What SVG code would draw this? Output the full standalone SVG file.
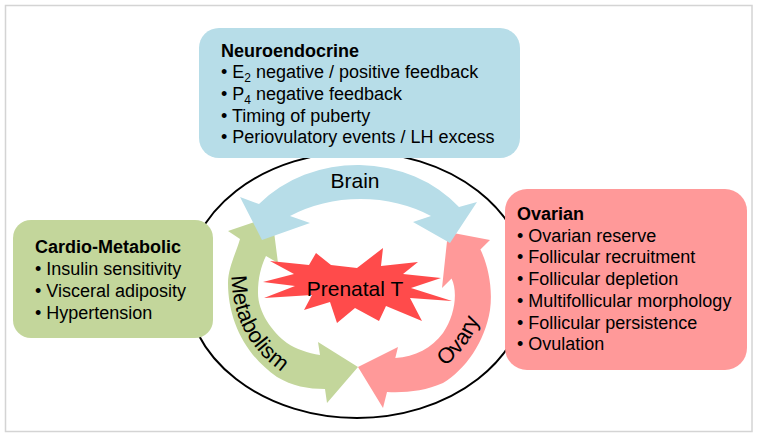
<svg xmlns="http://www.w3.org/2000/svg" width="762" height="438" viewBox="0 0 762 438">
<defs>
<style>
.t{font-family:"Liberation Sans",Arial,sans-serif;font-size:18px;fill:#000}
.b{font-weight:bold}
.lab{font-family:"Liberation Sans",Arial,sans-serif;font-size:21px;fill:#000}
.cl{font-family:"Liberation Sans",Arial,sans-serif;font-size:22px;fill:#000}
.blue{fill:#b7dde8}
.green{fill:#c3d69b}
.red{fill:#ff9999}
</style>
<path id="pm" d="M 232,260 C 228,310 245,355 302,384"/>
<path id="po" d="M 428,377 C 455,363 481,336 486,290"/>
</defs>
<rect x="5.5" y="5.5" width="746.5" height="426" fill="#fff" stroke="#d4d4d4" stroke-width="1.5"/>
<ellipse cx="357" cy="285" rx="171" ry="133" fill="none" stroke="#000" stroke-width="2"/>

<g id="neuroendocrine">
<rect x="199" y="28" width="321" height="130" rx="20" class="blue"/>
<text class="t b" x="221" y="56.5">Neuroendocrine</text>
<text class="t" x="221" y="78.2">• E<tspan font-size="12" dy="4">2</tspan><tspan dy="-4"> negative / positive feedback</tspan></text>
<text class="t" x="221" y="99.9">• P<tspan font-size="12" dy="4">4</tspan><tspan dy="-4"> negative feedback</tspan></text>
<text class="t" x="221" y="121.6">• Timing of puberty</text>
<text class="t" x="221" y="143.3">• Periovulatory events / LH excess</text>
</g>

<g id="cardio-metabolic">
<rect x="13" y="220" width="200" height="118" rx="18" class="green"/>
<text class="t b" x="35" y="253">Cardio-Metabolic</text>
<text class="t" x="35" y="275">• Insulin sensitivity</text>
<text class="t" x="35" y="297">• Visceral adiposity</text>
<text class="t" x="35" y="318.5">• Hypertension</text>
</g>

<g id="ovarian">
<rect x="505" y="189" width="242" height="181" rx="22" class="red"/>
<text class="t b" x="517" y="220">Ovarian</text>
<text class="t" x="517" y="241.7">• Ovarian reserve</text>
<text class="t" x="517" y="263.4">• Follicular recruitment</text>
<text class="t" x="517" y="285.1">• Follicular depletion</text>
<text class="t" x="517" y="306.8">• Multifollicular morphology</text>
<text class="t" x="517" y="328.5">• Follicular persistence</text>
<text class="t" x="517" y="350.2">• Ovulation</text>
</g>

<g id="connectors">
<g id="metabolism-arrow">
<path class="green" d="M 240,239 C 236,253 228,268 228,283 C 228,320 245,355 277,377 C 292,386 308,389 325,389 L 327,403 L 358,367 L 318,342 L 320,355 C 308,353 296,349 287,343 C 272,332 258,312 258,293 C 258,278 261,266 266,256 L 278,263 L 272,216 L 228,231 Z"/>
<text class="cl"><textPath href="#pm" startOffset="16">Metabolism</textPath></text>
</g>
<g id="ovary-arrow">
<path class="red" d="M 480.4,249.6 L 490,240 L 448,232 L 442,288 L 451.6,278.4 C 458,292 455,316 443,333 C 432,348 415,357 395.3,358 L 398,347 L 358,367 L 383,408 L 387,392 C 405,393 425,391 443,383 C 465,370 485,342 490,310 C 493,288 488,265 480.4,249.6 Z"/>
<text class="cl"><textPath href="#po" startOffset="20">Ovary</textPath></text>
</g>
<g id="brain-arrow">
<path class="blue" d="M 259,204 A 130 112 0 0 1 459,207 L 477,202 L 450,243 L 413,222 L 431,216 A 112 76 0 0 0 290,216 L 310,223 L 262,240 L 240,197 Z"/>
<text class="lab" x="355" y="188" text-anchor="middle">Brain</text>
</g>
</g>

<g id="prenatal-t">
<polygon fill="#ff4b4b" points="357,268 383,248 381,266 418,262 403,274 441,278 411,288 452,301 410,298 422,321 386,306 379,321 355,308 337,323 330,302 304,310 312,295 264,298 295,286 263,282 294,274 270,261 309,265 316,253 331,265"/>
<text class="lab" x="355" y="296" text-anchor="middle">Prenatal T</text>
</g>
</svg>
